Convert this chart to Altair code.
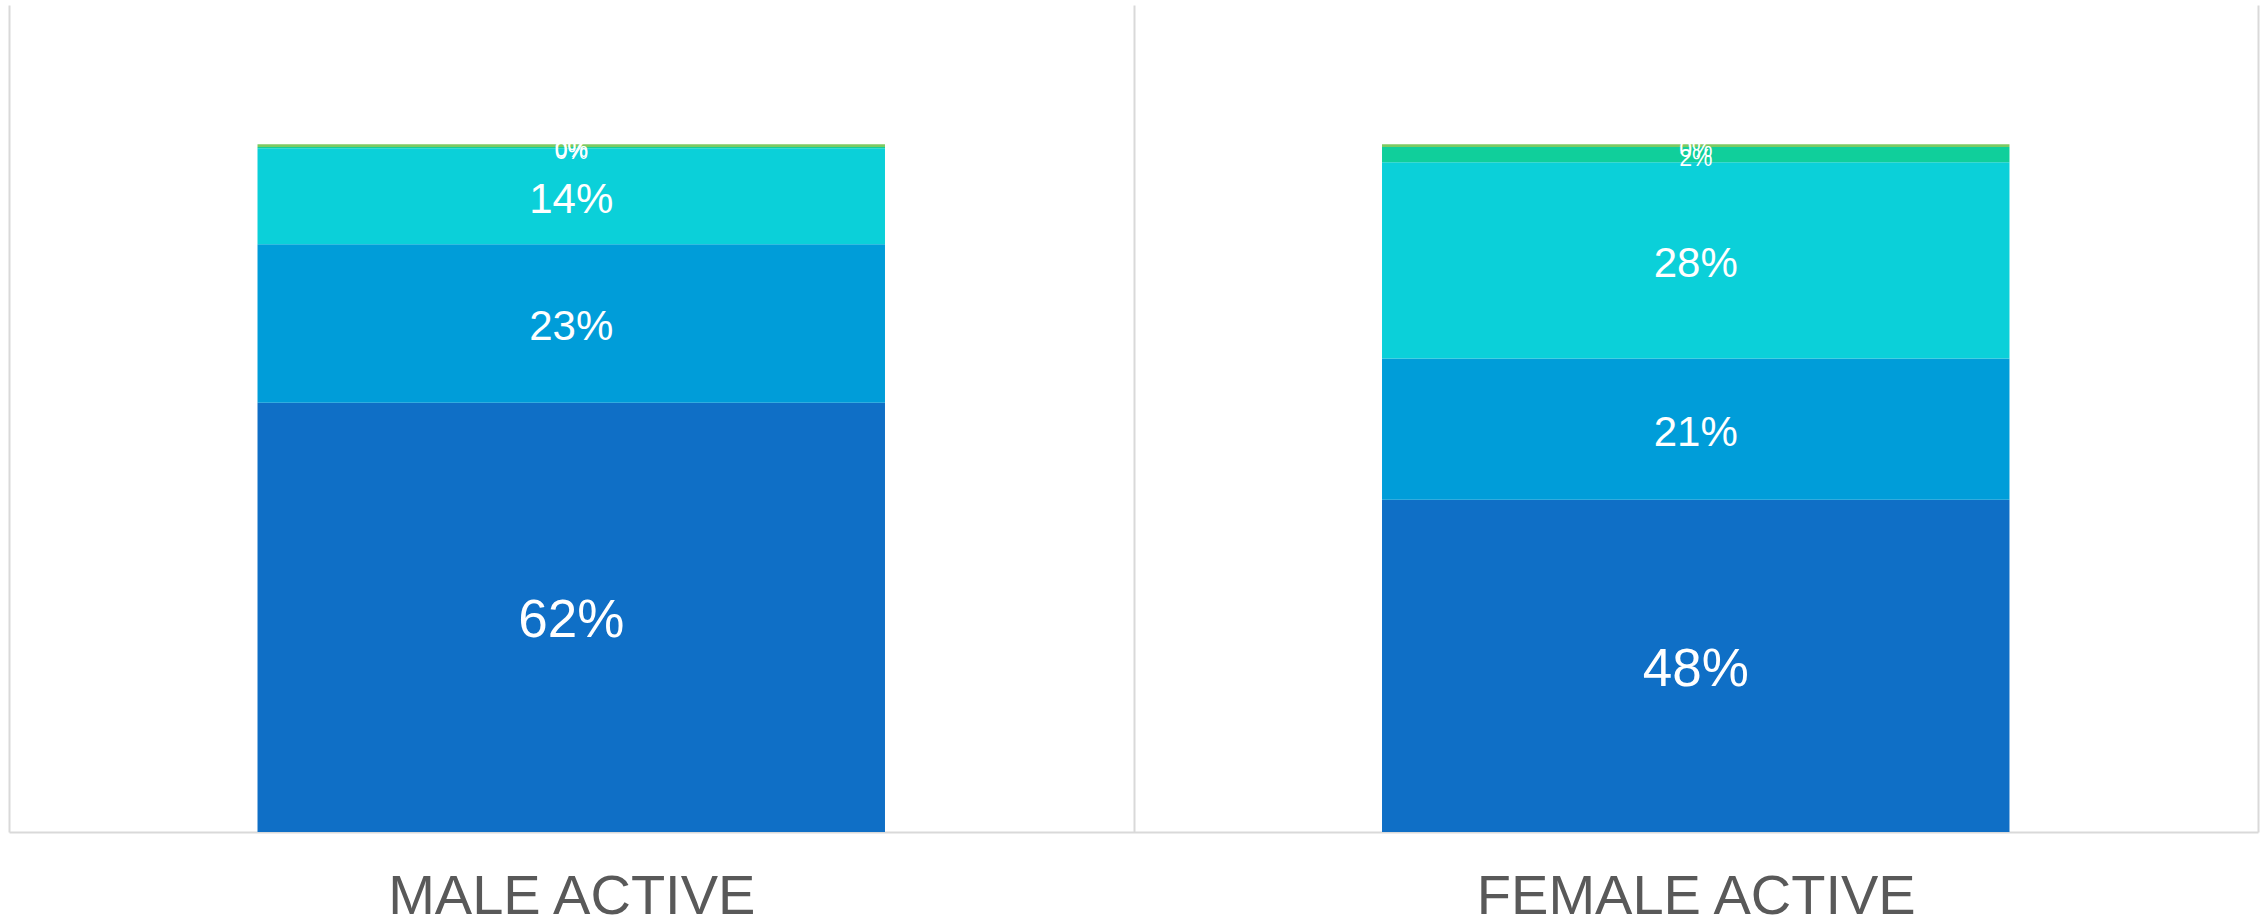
import altair as alt
import pandas as pd

groups = ["MALE ACTIVE", "FEMALE ACTIVE"]
segments = ["Segment 1", "Segment 2", "Segment 3", "Segment 4", "Segment 5"]
male_values = [0.623, 0.230, 0.139, 0.002, 0.004]
female_values = [0.482, 0.205, 0.285, 0.022, 0.004]
colors = ["#0F6FC6", "#009DD9", "#0BD0D9", "#10CF9B", "#7CCA62"]

rows = []
for g, vals in zip(groups, [male_values, female_values]):
    for i, (s, v) in enumerate(zip(segments, vals)):
        rows.append({"group": g, "segment": s, "order": i, "value": v})
df = pd.DataFrame(rows)

x_enc = alt.X(
    "group:N",
    sort=groups,
    scale=alt.Scale(paddingInner=0, paddingOuter=0),
    axis=alt.Axis(
        title=None,
        labelAngle=0,
        labelFont="Liberation Sans",
        labelFontSize=56,
        labelColor="#595959",
        labelPadding=37,
        labelLimit=0,
        ticks=False,
        tickSize=0,
        tickBand="extent",
        grid=True,
        gridColor="#D9D9D9",
        gridWidth=2,
        domainColor="#D9D9D9",
        domainWidth=2,
    ),
)

bars = alt.Chart(df).mark_bar(width=alt.RelativeBandSize(0.558)).encode(
    x=x_enc,
    y=alt.Y("value:Q", stack="zero", scale=alt.Scale(domain=[0, 1.2]), axis=None),
    color=alt.Color("segment:N", scale=alt.Scale(domain=segments, range=colors), legend=None),
    order=alt.Order("order:Q"),
)

labels = (
    alt.Chart(df)
    .transform_window(
        cum="sum(value)",
        groupby=["group"],
        sort=[alt.SortField("order")],
        frame=[None, 0],
    )
    .transform_calculate(mid="datum.cum - datum.value / 2")
    .mark_text(color="white", font="Liberation Sans", baseline="middle", align="center", dy=4)
    .encode(
        x=alt.X("group:N", sort=groups),
        y=alt.Y("mid:Q"),
        text=alt.Text("value:Q", format=".0%"),
        size=alt.Size(
            "value:Q",
            scale=alt.Scale(type="threshold", domain=[0.05, 0.4], range=[23, 42, 53]),
            legend=None,
        ),
    )
)

chart = (
    alt.layer(bars, labels)
    .properties(
        width=2249,
        height=827,
        autosize=alt.AutoSizeParams(type="none"),
        padding={"left": 9, "right": 9, "top": 5, "bottom": 87},
        background="white",
    )
    .configure_view(strokeWidth=0)
)

chart.save("out.html", embed_options={"renderer": "svg", "actions": False})
